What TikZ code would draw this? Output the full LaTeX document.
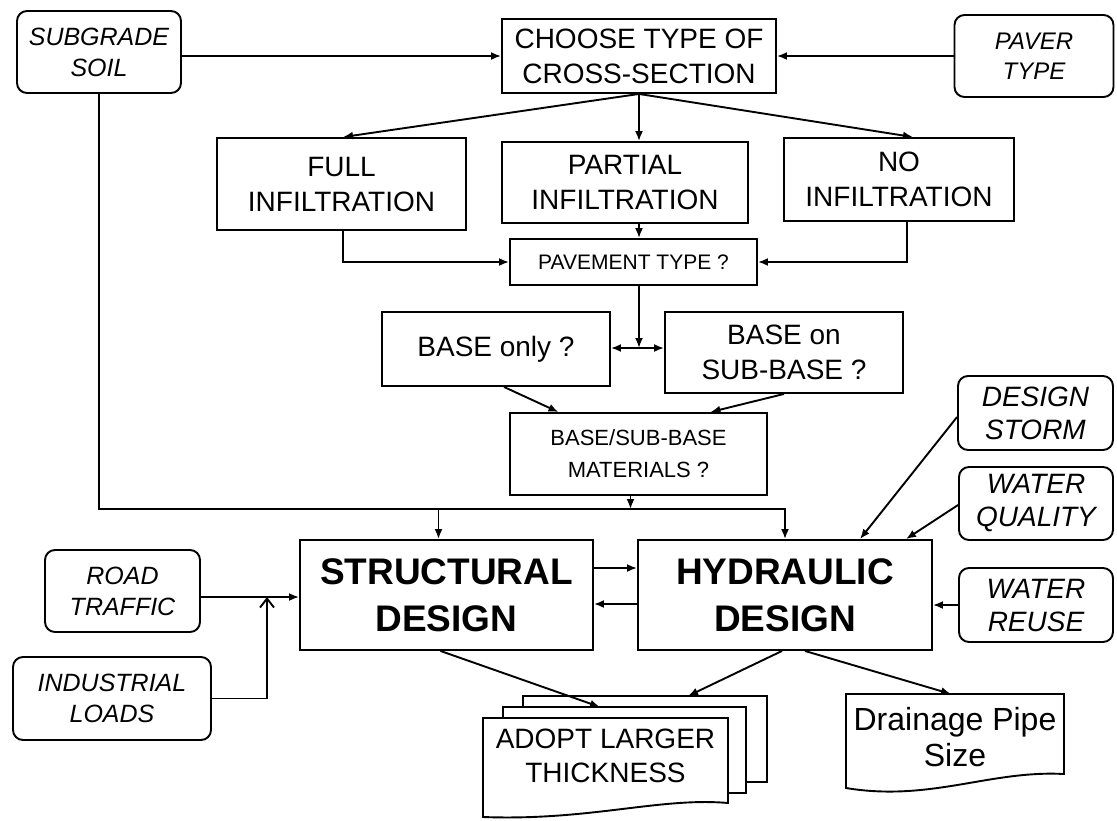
\documentclass[tikz,border=0pt]{standalone}
\usepackage{fontspec}
\setmainfont{Liberation Sans}
\usetikzlibrary{arrows.meta,calc}
\begin{document}
\begin{tikzpicture}[x=1pt,y=-1pt, line width=1.9pt,
  box/.style={draw, rectangle, inner sep=0pt, align=center, font=\fontsize{28}{35}\selectfont},
  rbox/.style={draw, rectangle, rounded corners=10pt, inner sep=0pt, align=center, font=\fontsize{25}{31}\selectfont\itshape},
  rboxr/.style={rbox, font=\fontsize{28}{33}\selectfont\itshape},
  bigbox/.style={draw, rectangle, inner sep=0pt, align=center, font=\fontsize{37}{47}\selectfont\bfseries},
  plain/.style={inner sep=0pt, align=center},
  arr/.style={-{Latex[length=10pt,width=8pt]}},
  openarr/.style={-{Straight Barb[length=9pt,width=14pt]}},
]
\useasboundingbox (0,0) rectangle (1117,820);

% input boxes
\node[rbox, minimum width=164pt, minimum height=82pt] (subgrade) at (99,52) {SUBGRADE\\SOIL};
\node[rbox, font=\fontsize{24}{30}\selectfont\itshape, minimum width=159pt, minimum height=82pt] (paver) at (1034,56) {PAVER\\TYPE};
\node[rbox, minimum width=155pt, minimum height=82pt] (road) at (122.5,591) {ROAD\\TRAFFIC};
\node[rbox, minimum width=198pt, minimum height=83pt] (industrial) at (112,698.5) {INDUSTRIAL\\LOADS};
\node[rboxr, minimum width=155pt, minimum height=74pt] (designstorm) at (1035.5,413) {DESIGN\\STORM};
\node[rboxr, minimum width=154pt, minimum height=73pt] (waterquality) at (1036,503.5) {WATER\\QUALITY};
\node[rboxr, minimum width=154pt, minimum height=74pt] (waterreuse) at (1036,605) {WATER\\REUSE};

% process boxes
\node[box, minimum width=274pt, minimum height=74pt] (choose) at (639,56) {CHOOSE TYPE OF\\CROSS-SECTION};
\node[box, minimum width=249pt, minimum height=92pt] (full) at (341.5,184) {FULL\\INFILTRATION};
\node[box, minimum width=246pt, minimum height=81pt] (partial) at (625,182.5) {PARTIAL\\INFILTRATION};
\node[box, minimum width=230pt, minimum height=83pt] (noinf) at (899,179.5) {NO\\INFILTRATION};
\node[box, font=\fontsize{21}{25}\selectfont, minimum width=247pt, minimum height=46pt] (pavement) at (633.5,262) {PAVEMENT TYPE ?};
\node[box, minimum width=228pt, minimum height=74pt] (baseonly) at (496,349) {BASE only ?};
\node[box, minimum width=238pt, minimum height=81pt] (baseonsub) at (784,352.5) {BASE on\\SUB-BASE ?};
\node[box, font=\fontsize{22}{32}\selectfont, minimum width=257pt, minimum height=82pt] (materials) at (638.5,454) {BASE/SUB-BASE\\MATERIALS ?};
\node[bigbox, minimum width=293pt, minimum height=110pt] (structural) at (446.5,595) {STRUCTURAL\\DESIGN};
\node[bigbox, minimum width=294pt, minimum height=110pt] (hydraulic) at (785,595) {HYDRAULIC\\DESIGN};

% output: stacked documents
\draw[fill=white] (523,696) rectangle (767,782);
\draw[fill=white] (503,707) rectangle (746,793);
\draw[fill=white] (483,817) -- (483,718) -- (728,718) -- (728,803) .. controls (660,797) and (590,821) .. (483,817) -- cycle;
\node[plain, font=\fontsize{28}{34}\selectfont] (adopt) at (605.5,756) {ADOPT LARGER\\THICKNESS};
\coordinate (backtop) at (688,696);
\coordinate (midtop) at (600,707);

% output: document
\draw[fill=white] (846,788) -- (846,694) -- (1064,694) -- (1064,774) .. controls (990,770) and (930,802) .. (846,788) -- cycle;
\node[plain, font=\fontsize{32}{36}\selectfont] (drain) at (955,737) {Drainage Pipe\\Size};
\coordinate (draintop) at (951,694);

% connectors
\draw[arr] (subgrade.east |- choose.west) -- (choose.west);
\draw[arr] (paver.west |- choose.east) -- (choose.east);
\draw[arr] (choose.south) -- ([xshift=1.5pt]full.north);
\draw[arr] (choose.south) -- (choose.south |- partial.north);
\draw[arr] (choose.south) -- ([xshift=14pt]noinf.north);
\draw[arr] ([xshift=1.5pt]full.south) |- (pavement.west);
\draw[arr] ([xshift=8pt]noinf.south) |- (pavement.east);
\draw[arr] (choose.south |- partial.south) -- (choose.south |- pavement.north);
\coordinate (j) at (639,348);
\draw[arr] (choose.south |- pavement.south) -- (j);
\draw[arr] (j) -- (j -| baseonly.east);
\draw[arr] (j) -- (j -| baseonsub.west);
\draw[arr] ([xshift=8pt]baseonly.south) -- ([xshift=-80pt]materials.north);
\draw[arr] (baseonsub.south) -- ([xshift=72pt]materials.north);
\coordinate (bus) at (630.5,509);
\draw[arr] ([xshift=-8pt]materials.south) -- (bus);
\draw[arr] (subgrade.south) |- (bus) -| (hydraulic.north);
\coordinate (sn) at ([xshift=-8pt]structural.north);
\draw[arr] (sn |- bus) -- (sn);
\draw[arr] ([yshift=27pt]structural.east) -- ([yshift=27pt]hydraulic.west);
\draw[arr] ([yshift=-9pt]hydraulic.west) -- ([yshift=-9pt]structural.east);
\coordinate (rj) at (267,597);
\draw[arr] (road.east |- rj) -- (structural.west |- rj);
\draw[openarr] (industrial.east) -| (rj);
\draw[arr] ([yshift=-4pt]designstorm.west) -- ([xshift=75pt]hydraulic.north);
\draw[arr] ([yshift=-1.5pt]waterquality.west) -- ([xshift=121pt]hydraulic.north);
\draw[arr] (waterreuse.west) -- (waterreuse.west -| hydraulic.east);
\draw[arr] ([xshift=-6pt]structural.south) -- (midtop);
\draw[arr] ([xshift=-3pt]hydraulic.south) -- (backtop);
\draw[arr] ([xshift=20pt]hydraulic.south) -- (draintop);
\end{tikzpicture}
\end{document}
